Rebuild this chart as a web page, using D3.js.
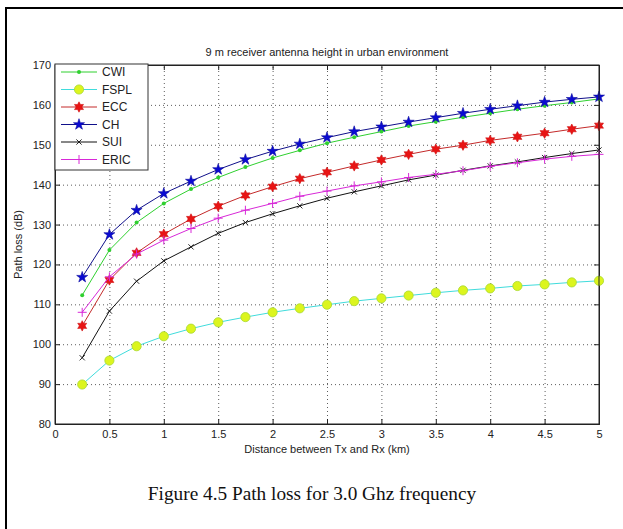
<!DOCTYPE html>
<html>
<head>
<meta charset="utf-8">
<script src="https://cdn.jsdelivr.net/npm/d3@7"></script>
<style>
  body { margin: 0; background: #fff; }
  svg { display: block; }
  .axis text { font-family: "Liberation Sans", Arial, sans-serif; font-size: 11px; fill: #222; }
  .grid line { stroke: #333; stroke-dasharray: 1,3; stroke-width: 0.8; }
  .grid path { display: none; }
</style>
</head>
<body>
<svg id="chart" width="623" height="529"></svg>
<script>
// data
var distances = [0.25, 0.5, 0.75, 1, 1.25, 1.5, 1.75, 2, 2.25, 2.5, 2.75, 3, 3.25, 3.5, 3.75, 4, 4.25, 4.5, 4.75, 5]
var cwi  = [112.3, 123.6, 130.5, 135.3, 138.9, 141.8, 144.4, 146.7, 148.6, 150.4, 151.9, 153.3, 154.7, 155.8, 156.9, 157.9, 158.9, 159.8, 160.6, 161.5]
var fspl = [89.9, 95.9, 99.5, 102.0, 103.9, 105.5, 106.8, 108.0, 109.0, 109.9, 110.8, 111.5, 112.2, 112.9, 113.5, 114.0, 114.6, 115.0, 115.5, 115.9]
var ecc  = [104.6, 116.1, 122.9, 127.6, 131.4, 134.6, 137.3, 139.5, 141.5, 143.1, 144.7, 146.2, 147.6, 148.9, 149.9, 151.1, 152.0, 152.9, 153.9, 154.8]
var ch   = [116.8, 127.5, 133.6, 137.8, 140.9, 143.8, 146.3, 148.4, 150.2, 151.8, 153.3, 154.5, 155.7, 156.8, 157.9, 158.9, 159.8, 160.7, 161.4, 162.0]
var sui  = [96.6, 108.3, 115.8, 120.9, 124.4, 127.8, 130.5, 132.7, 134.7, 136.6, 138.2, 139.7, 141.2, 142.4, 143.6, 144.7, 145.7, 146.8, 147.8, 148.7]
var eric = [108.0, 116.9, 122.6, 126.1, 129.0, 131.6, 133.6, 135.3, 137.1, 138.4, 139.7, 140.7, 141.8, 142.6, 143.5, 144.6, 145.5, 146.4, 147.1, 147.6]
var seriesNames = ["CWI", "FSPL", "ECC", "CH", "SUI", "ERIC"]
var xTicks = [0, 0.5, 1, 1.5, 2, 2.5, 3, 3.5, 4, 4.5, 5]
var yTicks = [80, 90, 100, 110, 120, 130, 140, 150, 160, 170]

var titleText = "9 m receiver antenna height in urban environment"
var xLabel = "Distance between Tx and Rx (km)"
var yLabel = "Path loss (dB)"
var captionText = "Figure 4.5 Path loss for 3.0 Ghz frequency"

// styles per series
const styles = {
  CWI:  {line: "#2fd02f", marker: "dot"},
  FSPL: {line: "#40dcdc", marker: "circle"},
  ECC:  {line: "#c42a2a", marker: "hexagram"},
  CH:   {line: "#10108a", marker: "star"},
  SUI:  {line: "#111111", marker: "x"},
  ERIC: {line: "#d828d8", marker: "plus"}
}
const seriesValues = {CWI: cwi, FSPL: fspl, ECC: ecc, CH: ch, SUI: sui, ERIC: eric}

const svg = d3.select('#chart')

// outer figure frame (top + left edges only are visible)
svg.append("line").attr("x1", 5).attr("x2", 623).attr("y1", 8).attr("y2", 8).attr("stroke", "#000").attr("stroke-width", 2)
svg.append("line").attr("x1", 6).attr("x2", 6).attr("y1", 7).attr("y2", 529).attr("stroke", "#000").attr("stroke-width", 2)

const margin = {top: 65, right: 24, bottom: 105, left: 55}
const innerWidth = 623 - margin.left - margin.right
const innerHeight = 529 - margin.top - margin.bottom

const g = svg.append("g").attr("transform", `translate(${margin.left},${margin.top})`)

const x = d3.scaleLinear().domain([0, 5]).range([0, innerWidth])
const y = d3.scaleLinear().domain([80, 170]).range([innerHeight, 0])

//remove the empty label texts of helper axes
const noText = sel => sel.selectAll("text").remove()

// dotted grid
g.append("g").attr("class", "grid")
  .attr("transform", `translate(0,${innerHeight})`)
  .call(d3.axisBottom(x).tickValues(xTicks.slice(1, -1)).tickSize(-innerHeight))
  .call(noText)
g.append("g").attr("class", "grid")
  .call(d3.axisLeft(y).tickValues(yTicks.slice(1, -1)).tickSize(-innerWidth))
  .call(noText)

// axes, ticks pointing inward like matlab
const fmt = d => d
g.append("g").attr("class", "axis").attr("transform", `translate(0,${innerHeight})`)
  .call(d3.axisBottom(x).tickValues(xTicks).tickSize(-5).tickPadding(6).tickFormat(fmt))
g.append("g").attr("class", "axis")
  .call(d3.axisLeft(y).tickValues(yTicks).tickSize(-5).tickPadding(4).tickFormat(fmt))
g.append("g").attr("class", "axis")
  .call(d3.axisTop(x).tickValues(xTicks).tickSize(-5))
  .call(noText)
g.append("g").attr("class", "axis").attr("transform", `translate(${innerWidth},0)`)
  .call(d3.axisRight(y).tickValues(yTicks).tickSize(-5))
  .call(noText)
g.selectAll(".axis path, .axis line").attr("stroke", "#222")

// marker shapes
function hexagram(r) {
  let pts = []
  for (let i = 0; i < 12; i++) {
    const a = Math.PI / 6 * i - Math.PI / 2
    const rr = i % 2 == 0 ? r : r * 0.55
    pts.push([rr * Math.cos(a), rr * Math.sin(a)])
  }
  return "M" + pts.join("L") + "Z"
}
function drawMarker(sel, kind, color) {
  if (kind == "dot") {
    sel.append("circle").attr("r", 2).attr("fill", color)
  } else if (kind == "circle") {
    sel.append("circle").attr("r", 4.6).attr("fill", "#dcf51e").attr("stroke", "#a8d830").attr("stroke-width", 0.8)
  } else if (kind == "hexagram") {
    sel.append("path").attr("d", hexagram(5.2)).attr("fill", "#e81414").attr("stroke", "#d01010").attr("stroke-width", 0.6)
  } else if (kind == "star") {
    sel.append("path").attr("d", d3.symbol(d3.symbolStar, 38)()).attr("fill", "#0a0ad2").attr("stroke", "#0a0aa0").attr("stroke-width", 0.6)
  } else if (kind == "x") {
    sel.append("path").attr("d", "M-2.6,-2.6L2.6,2.6M-2.6,2.6L2.6,-2.6").attr("stroke", color).attr("stroke-width", 0.9)
  } else if (kind == "plus") {
    sel.append("path").attr("d", "M-4.5,0L4.5,0M0,-4.5L0,4.5").attr("stroke", color).attr("stroke-width", 1)
  }
}

const line = d3.line().x((d, i) => x(distances[i])).y(d => y(d))

// draw in matlab plot order
seriesNames.forEach(function(name) {
  const st = styles[name]
  const vals = seriesValues[name]
  g.append("path").datum(vals)
    .attr("fill", "none").attr("stroke", st.line).attr("stroke-width", 1)
    .attr("d", line)
  g.append("g").selectAll("g")
    .data(vals).join("g")
    .attr("transform", (d, i) => `translate(${x(distances[i])},${y(d)})`)
    .each(function() { drawMarker(d3.select(this), st.marker, st.line) })
})

// plot box
g.append("rect").attr("width", innerWidth).attr("height", innerHeight)
  .attr("fill", "none").attr("stroke", "#222").attr("stroke-width", 1)

// legend
const legend = g.append("g").attr("transform", "translate(0,-1)")
legend.append("rect").attr("x", 0).attr("y", 0).attr("width", 93).attr("height", 106)
  .attr("fill", "#fff").attr("stroke", "#333").attr("stroke-width", 1)
seriesNames.forEach(function(name, i) {
  const row = legend.append("g").attr("transform", `translate(0,${8 + i * 17.5})`)
  row.append("line").attr("x1", 6).attr("x2", 42).attr("stroke", styles[name].line).attr("stroke-width", 1)
  drawMarker(row.append("g").attr("transform", "translate(24,0)"), styles[name].marker, styles[name].line)
  row.append("text").attr("x", 47).attr("y", 4).text(name)
    .style("font-family", "'Liberation Sans', Arial, sans-serif").style("font-size", "12px").style("fill", "#222")
})

// titles
svg.append("text").attr("x", margin.left + innerWidth / 2).attr("y", 56)
  .attr("text-anchor", "middle").text(titleText)
  .style("font-family", "'Liberation Sans', Arial, sans-serif").style("font-size", "11px").style("fill", "#222")
svg.append("text").attr("x", margin.left + innerWidth / 2).attr("y", 453)
  .attr("text-anchor", "middle").text(xLabel)
  .style("font-family", "'Liberation Sans', Arial, sans-serif").style("font-size", "11px").style("fill", "#222")
svg.append("text").attr("transform", "rotate(-90)")
  .attr("x", -(margin.top + innerHeight / 2)).attr("y", 22)
  .attr("text-anchor", "middle").text(yLabel)
  .style("font-family", "'Liberation Sans', Arial, sans-serif").style("font-size", "11px").style("fill", "#222")

// figure caption, sized to span like the original
const cap = svg.append("text").attr("x", 312).attr("y", 500)
  .attr("text-anchor", "middle").text(captionText)
  .style("font-family", "'Liberation Serif', 'Times New Roman', serif").style("font-size", "20px").style("fill", "#111")
const w = cap.node().getComputedTextLength()
cap.style("font-size", (20 * 329 / w).toFixed(1) + "px")
</script>
</body>
</html>
